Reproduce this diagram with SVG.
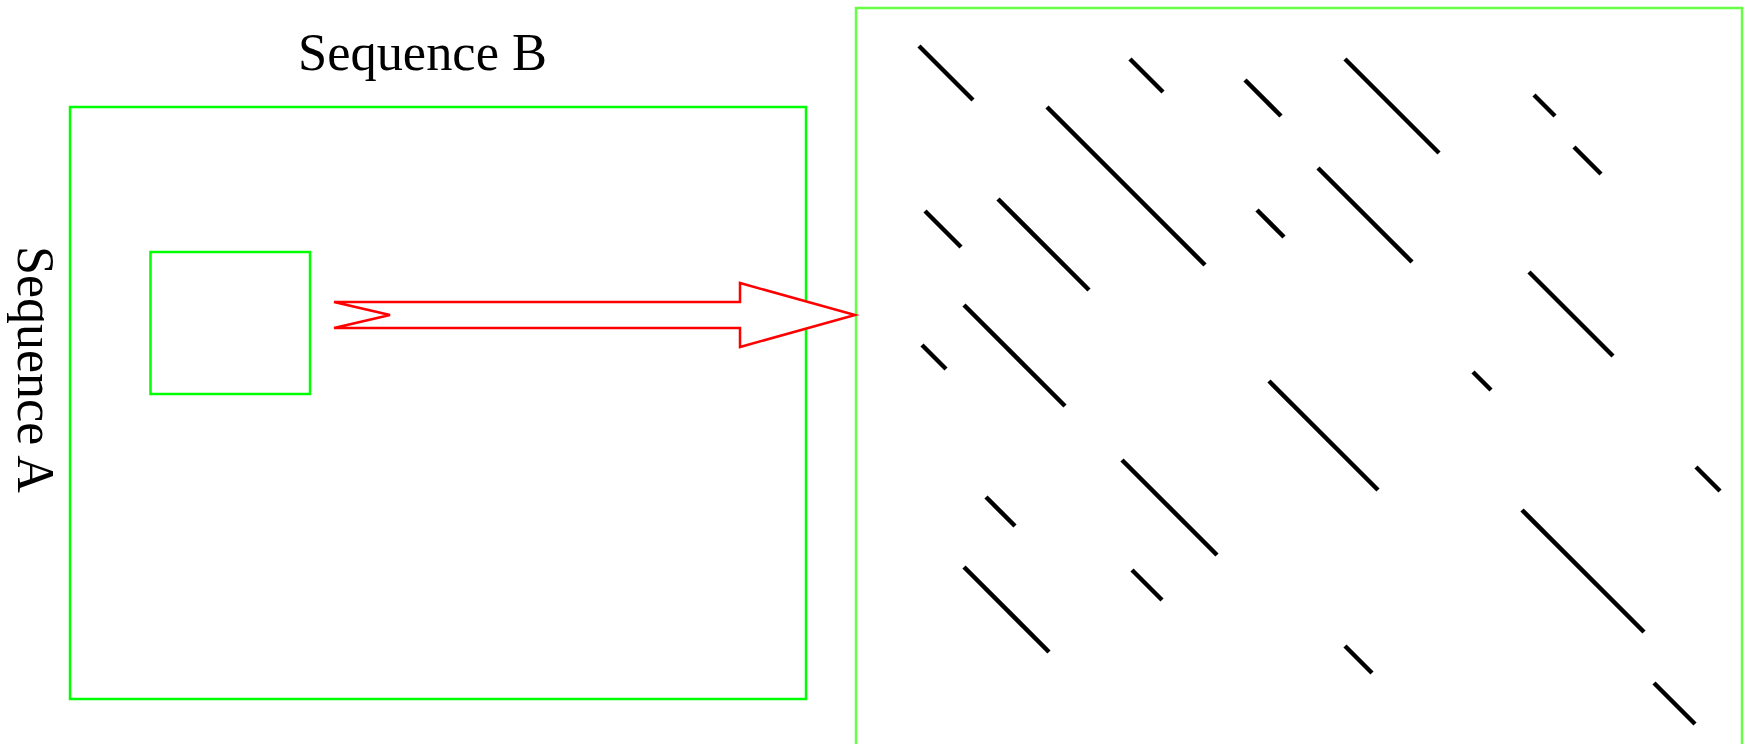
<svg xmlns="http://www.w3.org/2000/svg" width="1750" height="744" viewBox="0 0 1750 744">
<style>
.box{fill:none;stroke:#00ff00;stroke-width:2.5}
.zoom{fill:none;stroke:#66ff44;stroke-width:2.5}
.lbl{font-family:"Liberation Serif","Times New Roman",serif;fill:#000}
.seg{stroke:#000;stroke-width:4.5;stroke-linecap:butt}
.arrow{fill:#fff;stroke:#ff0000;stroke-width:2.5;stroke-linejoin:miter}
</style>
<rect width="1750" height="744" fill="#fff"/>
<g id="label-b"><text class="lbl" x="298" y="70" font-size="53" textLength="249" lengthAdjust="spacingAndGlyphs">Sequence B</text></g>
<g id="label-a"><text class="lbl" font-size="52" transform="translate(18,246) rotate(90)">Sequence A</text></g>
<g id="dotplot"><rect class="box" x="70" y="107" width="736" height="592"/></g>
<g id="window"><rect class="box" x="150.5" y="252" width="159.5" height="142"/></g>
<g id="zoomview">
<rect class="zoom" x="856" y="8" width="886" height="760"/>
<g id="segments">
<line class="seg" x1="919" y1="46" x2="973" y2="100"/>
<line class="seg" x1="1130" y1="59" x2="1163" y2="92"/>
<line class="seg" x1="1245" y1="80" x2="1281" y2="116"/>
<line class="seg" x1="1345" y1="59" x2="1439" y2="153"/>
<line class="seg" x1="1534" y1="95" x2="1555" y2="116"/>
<line class="seg" x1="1047" y1="107" x2="1205" y2="265"/>
<line class="seg" x1="1574" y1="147" x2="1601" y2="174"/>
<line class="seg" x1="925" y1="211" x2="961" y2="247"/>
<line class="seg" x1="998" y1="199" x2="1089" y2="290"/>
<line class="seg" x1="1257" y1="210" x2="1284" y2="237"/>
<line class="seg" x1="1318" y1="168" x2="1412" y2="262"/>
<line class="seg" x1="1529" y1="272" x2="1613" y2="356"/>
<line class="seg" x1="964" y1="305" x2="1065" y2="406"/>
<line class="seg" x1="922" y1="345" x2="946" y2="369"/>
<line class="seg" x1="1473" y1="372" x2="1491" y2="390"/>
<line class="seg" x1="1269" y1="381" x2="1378" y2="490"/>
<line class="seg" x1="1696" y1="467" x2="1720" y2="491"/>
<line class="seg" x1="1122" y1="460" x2="1217" y2="555"/>
<line class="seg" x1="986" y1="497" x2="1015" y2="526"/>
<line class="seg" x1="1522" y1="510" x2="1644" y2="632"/>
<line class="seg" x1="964" y1="567" x2="1049" y2="652"/>
<line class="seg" x1="1132" y1="570" x2="1162" y2="600"/>
<line class="seg" x1="1345" y1="646" x2="1372" y2="673"/>
<line class="seg" x1="1654" y1="683" x2="1695" y2="724"/>
</g>
</g>
<g id="connectors">
<polygon class="arrow" points="334,302 740,302 740,283 855,315 740,347 740,328 334,328 390,315"/>
</g>
</svg>
